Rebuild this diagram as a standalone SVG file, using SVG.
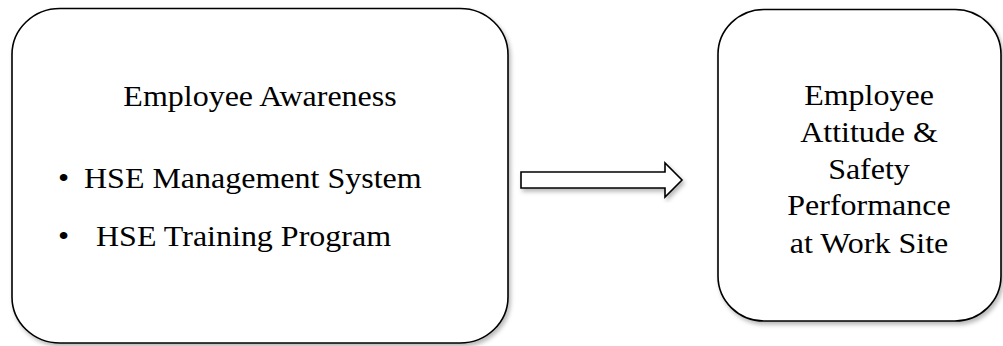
<svg xmlns="http://www.w3.org/2000/svg" width="1003" height="346" viewBox="0 0 1003 346">
  <style>
    .box { fill: #ffffff; stroke: #000000; stroke-width: 1.6; filter: url(#shadow); }
    .arrow { fill: #ffffff; stroke: #000000; stroke-width: 1.6; stroke-linejoin: miter; filter: url(#shadow); }
    .label { font-family: "Liberation Serif", "Times New Roman", serif; font-size: 32px; fill: #000000; }
    .mid { text-anchor: middle; }
  </style>
  <defs>
    <filter id="shadow" x="-10%" y="-10%" width="125%" height="125%">
      <feDropShadow dx="2" dy="3" stdDeviation="2" flood-color="#000000" flood-opacity="0.28"/>
    </filter>
  </defs>

  <rect width="1003" height="346" fill="#ffffff"/>

  <!-- source node: awareness factors -->
  <g id="node-awareness">
    <rect class="box" x="12" y="8.5" width="496" height="334.5" rx="48" ry="46"/>
    <text class="label mid" transform="translate(260,106) scale(1,0.92)">Employee Awareness</text>
    <text class="label" transform="translate(58,188) scale(1,0.92)">•</text>
    <text class="label" transform="translate(84,188) scale(1,0.92)">HSE Management System</text>
    <text class="label" transform="translate(58,246) scale(1,0.92)">•</text>
    <text class="label" transform="translate(96,246) scale(1,0.92)">HSE Training Program</text>
  </g>

  <!-- connectors -->
  <g id="connectors">
    <path class="arrow" d="M521,172 L665,172 L665,163 L682,180 L665,197 L665,188 L521,188 Z"/>
  </g>

  <!-- target node: attitude and performance -->
  <g id="node-performance">
    <rect class="box" x="718" y="9.5" width="283" height="311.5" rx="46" ry="45"/>
    <text class="label mid" transform="translate(869,105) scale(1,0.92)">Employee</text>
    <text class="label mid" transform="translate(869,142) scale(1,0.92)">Attitude &amp;</text>
    <text class="label mid" transform="translate(869,179) scale(1,0.92)">Safety</text>
    <text class="label mid" transform="translate(869,215) scale(1,0.92)">Performance</text>
    <text class="label mid" transform="translate(869,253) scale(1,0.92)">at Work Site</text>
  </g>
</svg>
